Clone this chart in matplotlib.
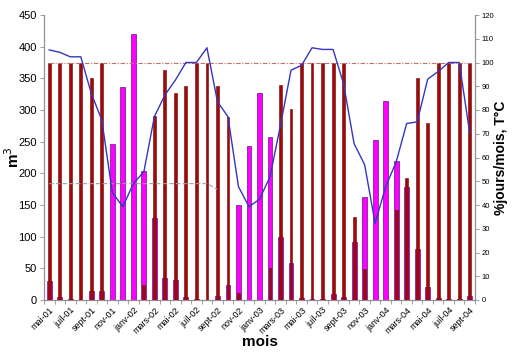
import matplotlib
matplotlib.use("Agg")
import matplotlib.pyplot as plt
import numpy as np

plt.rcParams['font.family'] = ['Liberation Sans', 'DejaVu Sans']

mois = ['mai-01', 'juin-01', 'juil-01', 'août-01', 'sept-01', 'oct-01', 'nov-01', 'déc-01',
        'janv-02', 'févr-02', 'mars-02', 'avr-02', 'mai-02', 'juin-02', 'juil-02', 'août-02',
        'sept-02', 'oct-02', 'nov-02', 'déc-02', 'janv-03', 'févr-03', 'mars-03', 'avr-03',
        'mai-03', 'juin-03', 'juil-03', 'août-03', 'sept-03', 'oct-03', 'nov-03', 'déc-03',
        'janv-04', 'févr-04', 'mars-04', 'avr-04', 'mai-04', 'juin-04', 'juil-04', 'août-04',
        'sept-04']

volume_m3 = [30, 5, 1, 0, 15, 15, 247, 336, 420, 203, 130, 34, 31, 5, 1, 0, 6, 23, 150, 243,
             327, 257, 100, 58, 3, 1, 1, 9, 4, 91, 163, 252, 314, 220, 179, 81, 20, 3, 1, 1, 7]

pct_jours = [100, 100, 100, 100, 93.3, 100, 0, 0, 0, 6.4, 77.3, 96.8, 87.2, 90.1, 100, 100,
             90.1, 77, 2.9, 0, 0, 13.3, 90.4, 80.3, 100, 100, 100, 100, 100, 35.1, 13, 0, 0,
             37.8, 51.2, 93.4, 74.4, 100, 100, 100, 100]

courbe = [105.3, 104.3, 102.4, 102.4, 87, 75.8, 45.2, 39.3, 49, 54, 77.2, 86.3, 92.6, 100, 100,
          106.2, 83.5, 77.2, 47.7, 39.3, 42.4, 51.9, 73.7, 96.8, 98.8, 106.2, 105.5, 105.5, 91,
          65.8, 57, 32.3, 47.7, 58.1, 74.3, 75, 93, 96.2, 100, 100, 70.2]

ref_100 = [100] * 41

ref_gris = [49] * 16 + [46.5] + [np.nan] * 24

x = np.arange(len(mois))

fig = plt.figure(figsize=(5.15, 3.6), dpi=100)
ax = fig.add_axes([44 / 515, 1 - 300 / 360, (475 - 44) / 515, 285 / 360])
ax2 = ax.twinx()

ax.set_zorder(1)
ax.patch.set_visible(False)
ax2.set_zorder(0)

ax.set_ylim(0, 450)
ax2.set_ylim(0, 120)

# magenta bars (m3) on left axis
ax.bar(x, volume_m3, width=0.46, color='#FF00FF', edgecolor='#7A2A9A', linewidth=0.6, zorder=2)
# dark red narrow bars (% jours/mois), right scale
ax.bar(x, np.array(pct_jours) * 450 / 120, width=0.27, color='#9E0A0A',
       edgecolor='#7A0000', linewidth=0.4, zorder=3)

ax.plot(x, np.array(ref_100) * 450 / 120, color='#C07070', lw=0.8, ls=(0, (4, 1.5, 1, 1.5)), zorder=4)
ax.plot(x, np.array(ref_gris) * 450 / 120, color='#A0A0A0', lw=0.8, ls=(0, (4, 2)), zorder=4)
ax.plot(x, np.array(courbe) * 450 / 120, color='#3535C0', lw=1.0, zorder=5)

ax.set_xlim(-0.5, len(mois) - 0.5)
ax.set_yticks(np.arange(0, 451, 50))
ax2.set_yticks(np.arange(0, 121, 10))

ax.set_xticks(np.arange(-0.5, len(mois), 1), minor=True)
ax.set_xticks(x[::2])
ax.set_xticklabels(mois[::2], rotation=45, ha='right', rotation_mode='anchor', fontsize=6.5)
ax.tick_params(axis='x', which='major', length=0, pad=4)
ax.tick_params(axis='x', which='minor', length=3, color='#909090', width=0.6)
ax.tick_params(axis='y', labelsize=8, length=3, color='#909090', width=0.6, pad=2)
ax2.tick_params(axis='y', labelsize=5.5, length=3, color='#909090', width=0.6, pad=2)

for a in (ax, ax2):
    a.spines['top'].set_visible(False)
    for s in ['left', 'right', 'bottom']:
        a.spines[s].set_color('#909090')
        a.spines[s].set_linewidth(0.8)

ax.set_ylabel('m$^3$', fontsize=11, fontweight='bold')
ax.yaxis.set_label_coords(-0.05, 0.5)
ax2.set_ylabel('%jours/mois, T°C', fontsize=10, fontweight='bold')
ax2.yaxis.set_label_coords(1.045, 0.5)
ax.set_xlabel('mois', fontsize=11, fontweight='bold', labelpad=0)

fig.savefig('out.png', dpi=100)
